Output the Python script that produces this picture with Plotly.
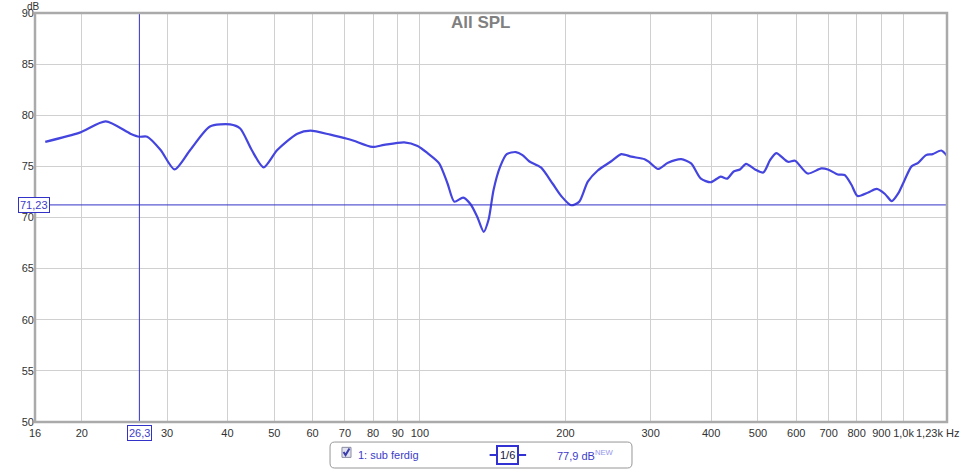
import math
import plotly.graph_objects as go

# frequency response "sub ferdig" (Hz, dB SPL)
freq_hz = [16.8, 19.8, 22.4, 25.2, 26.3, 27.3, 29.1, 31.1, 33.5, 36.8,
           40.5, 42.5, 44.9, 47.5, 50.7, 55.8, 59.4, 65.3, 70.7, 73.0,
           79.7, 84.3, 92.8, 98.9, 103.7, 109.6, 114.1, 117.8, 122.9, 127.3,
           131.3, 135.5, 138.7, 142.0, 146.6, 151.2, 157.9, 163.0, 168.2, 177.9,
           188.2, 196.0, 205.4, 213.6, 222.4, 233.2, 248.7, 260.8, 273.6, 291.5,
           298.4, 310.7, 325.8, 347.0, 363.7, 381.1, 399.5, 418.7, 431.8, 445.4,
           459.0, 472.6, 493.2, 513.1, 529.6, 545.6, 576.7, 596.6, 633.7, 675.8,
           697.6, 731.6, 755.5, 780.4, 803.2, 845.3, 880.4, 915.5, 945.5, 974.9,
           1006, 1039, 1072, 1113, 1149, 1197, 1231]
spl_db = [77.4, 78.3, 79.4, 78.2, 77.9, 77.9, 76.6, 74.7, 76.6, 78.9,
          79.1, 78.7, 76.6, 74.9, 76.6, 78.2, 78.5, 78.1, 77.7, 77.5,
          76.9, 77.1, 77.35, 77.0, 76.3, 75.3, 73.3, 71.55, 71.95, 71.3,
          70.1, 68.6, 69.8, 72.7, 75.0, 76.2, 76.4, 76.1, 75.5, 74.9,
          73.3, 72.1, 71.2, 71.55, 73.5, 74.6, 75.5, 76.2, 75.95, 75.7,
          75.4, 74.75, 75.35, 75.7, 75.3, 73.8, 73.45, 74.0, 73.8, 74.5,
          74.7, 75.25, 74.7, 74.4, 75.6, 76.3, 75.45, 75.55, 74.3, 74.8,
          74.7, 74.2, 74.15, 73.2, 72.1, 72.45, 72.8, 72.3, 71.6, 72.35,
          73.7, 75.0, 75.35, 76.1, 76.2, 76.55, 76.0]

x_ticks = [16, 20, 30, 40, 50, 60, 70, 80, 90, 100,
           200, 300, 400, 500, 600, 700, 800, 900, 1000]
x_labels = ["16", "20", "30", "40", "50", "60", "70", "80", "90", "100",
            "200", "300", "400", "500", "600", "700", "800", "900", "1,0k"]
y_ticks = [50, 55, 60, 65, 70, 75, 80, 85, 90]

cursor_f = 26.3
cursor_db = 71.23
trace_name = "1: sub ferdig"
trace_level = "77,9 dB"
smoothing_label = "1/6"

f_min, f_max = 16, 1230
curve_col = "rgb(68,68,222)"
cursor_col = "rgb(50,50,200)"
text_col = "rgb(60,60,200)"
grid_col = "rgb(208,208,208)"
font = "Liberation Sans, Arial, sans-serif"

fig = go.Figure()
fig.add_trace(go.Scatter(x=freq_hz, y=spl_db, mode="lines",
                         line=dict(color=curve_col, width=2.2, shape="spline", smoothing=0.7),
                         hoverinfo="x+y", showlegend=False))

# cursor cross
fig.add_shape(type="line", xref="x", yref="paper", x0=cursor_f, x1=cursor_f, y0=0, y1=1,
              line=dict(color=cursor_col, width=1))
fig.add_shape(type="line", xref="paper", yref="y", x0=0, x1=1, y0=cursor_db, y1=cursor_db,
              line=dict(color=cursor_col, width=1))

# plot frame
fig.add_shape(type="rect", xref="paper", yref="paper", x0=0, x1=1, y0=0, y1=1,
              line=dict(color="rgb(170,170,170)", width=2.5), layer="above")

# legend box (rounded)
lx0, lx1, ly0, ly1 = 0.3235, 0.6546, -0.049, -0.1125
rx, ry = 0.005, 0.012
path = (f"M {lx0+rx},{ly0} L {lx1-rx},{ly0} Q {lx1},{ly0} {lx1},{ly0-ry} "
        f"L {lx1},{ly1+ry} Q {lx1},{ly1} {lx1-rx},{ly1} L {lx0+rx},{ly1} "
        f"Q {lx0},{ly1} {lx0},{ly1+ry} L {lx0},{ly0-ry} Q {lx0},{ly0} {lx0+rx},{ly0} Z")
fig.add_shape(type="path", xref="paper", yref="paper", path=path,
              line=dict(color="rgb(150,150,150)", width=1), fillcolor="white")
# checkbox with tick
fig.add_shape(type="rect", xref="paper", yref="paper", x0=0.3366, x1=0.3465, y0=-0.062, y1=-0.0865,
              line=dict(color="rgb(140,140,160)", width=1), fillcolor="rgb(225,228,240)")
fig.add_shape(type="path", xref="paper", yref="paper",
              path="M 0.3383,-0.0733 L 0.3405,-0.0807 L 0.3448,-0.0648",
              line=dict(color="rgb(60,60,170)", width=2))
# smoothing icon line
fig.add_shape(type="line", xref="paper", yref="paper", x0=0.4985, x1=0.5385, y0=-0.0805, y1=-0.0805,
              line=dict(color="rgb(50,50,210)", width=2))

ann = [
    dict(text="<b>All SPL</b>", x=0.489, y=0.976, xref="paper", yref="paper",
         font=dict(size=17, color="rgb(128,128,128)", family=font)),
    dict(text="dB", x=-0.011, y=1.016, xref="paper", yref="paper",
         font=dict(size=10, color="rgb(50,50,50)", family=font)),
    dict(text="1,23k Hz", x=1, y=-0.027, xref="paper", yref="paper", xanchor="right", xshift=14,
         font=dict(size=11, color="rgb(50,50,50)", family=font)),
    dict(text=str(cursor_f).replace(".", ","), x=math.log10(cursor_f), y=-0.027, xref="x", yref="paper",
         bgcolor="white", bordercolor=cursor_col, borderwidth=1, borderpad=1,
         font=dict(size=11, color=text_col, family=font)),
    dict(text=f"{cursor_db:.2f}".replace(".", ","), x=-0.0186, y=cursor_db, xref="paper", yref="y",
         bgcolor="white", bordercolor=cursor_col, borderwidth=1, borderpad=1,
         font=dict(size=11, color=text_col, family=font)),
    dict(text=trace_name, x=0.352, y=-0.0805, xref="paper", yref="paper", xanchor="left",
         font=dict(size=11, color=text_col, family=font)),
    dict(text=smoothing_label, x=0.5185, y=-0.0805, xref="paper", yref="paper",
         bgcolor="white", bordercolor="rgb(50,50,210)", borderwidth=2, borderpad=2,
         font=dict(size=11, color="rgb(20,20,60)", family=font)),
    dict(text=f"{trace_level}<sup><span style='color:rgb(150,150,235)'>NEW</span></sup>",
         x=0.5705, y=-0.0805, xref="paper", yref="paper", xanchor="left",
         font=dict(size=11, color=text_col, family=font)),
]
for a in ann:
    a["showarrow"] = False
    a["yanchor"] = "middle"

fig.update_layout(
    width=963, height=469,
    margin=dict(l=35, r=16, t=13, b=47),
    paper_bgcolor="white", plot_bgcolor="white",
    font=dict(family=font, size=11, color="rgb(50,50,50)"),
    annotations=ann,
    xaxis=dict(type="log", range=[math.log10(f_min), math.log10(f_max)], automargin=False,
               tickvals=x_ticks, ticktext=x_labels, showgrid=True, gridcolor=grid_col,
               gridwidth=1, zeroline=False, showline=False, ticks="", ticklabelstandoff=3),
    yaxis=dict(range=[50, 90], tickvals=y_ticks, showgrid=True, gridcolor=grid_col, automargin=False,
               gridwidth=1, zeroline=False, showline=False, ticks=""),
)

# drop the default 8px body margin so the figure fills the window
fig.write_html("out.html", config={"displayModeBar": False},
               post_script="document.body.style.margin='0';")
